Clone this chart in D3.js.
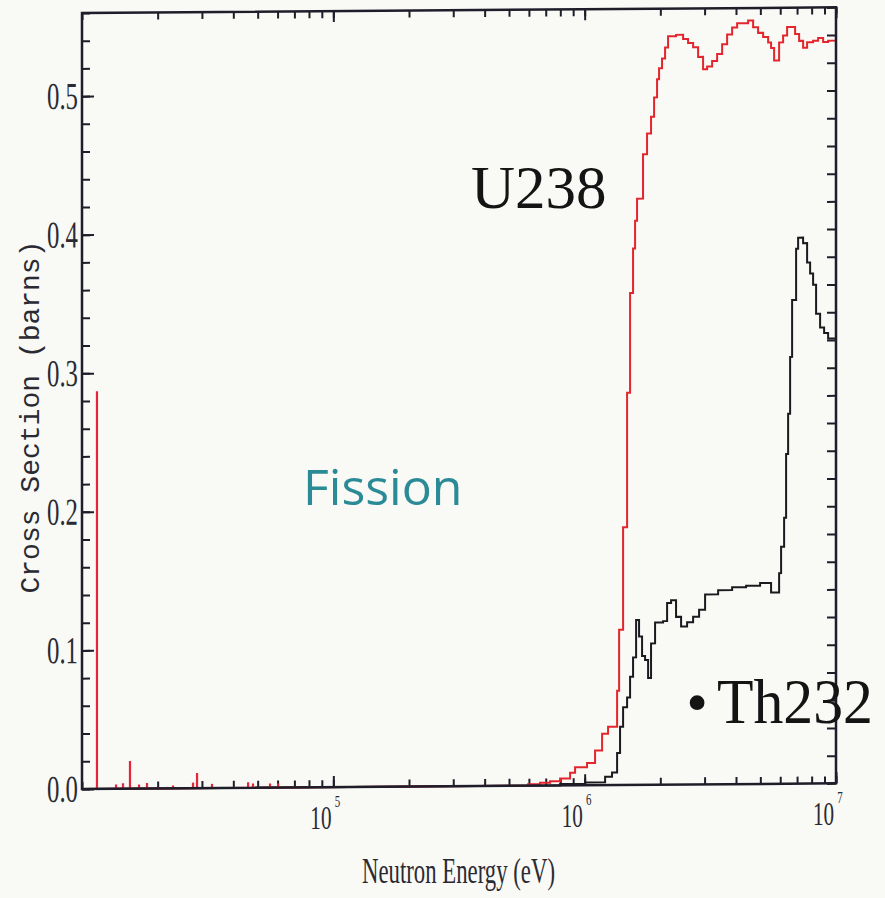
<!DOCTYPE html>
<meta charset="utf-8">
<script src="https://d3js.org/d3.v7.min.js"></script>
<style>
  body { margin: 0; background: #f9f9f6; }
</style>
<div id="chart"></div>
<script>

// U238 fission cross section, step data (energy eV, barns)
var u238Energy = [1e4, 5.955e5, 6.645e5, 7.285e5, 7.985e5, 8.75e5, 9.159e5, 1.022e6, 1.100e6, 1.173e6,
  1.239e6, 1.346e6, 1.371e6, 1.422e6, 1.475e6, 1.516e6, 1.558e6, 1.587e6, 1.616e6, 1.707e6,
  1.771e6, 1.837e6, 1.889e6, 1.941e6, 1.977e6, 2.032e6, 2.089e6, 2.147e6, 2.310e6, 2.464e6,
  2.579e6, 2.701e6, 2.827e6, 2.959e6, 3.070e6, 3.214e6, 3.365e6, 3.523e6, 3.688e6, 3.861e6,
  4.042e6, 4.470e6, 4.680e6, 4.898e6, 5.129e6, 5.370e6, 5.517e6, 5.673e6, 5.938e6, 6.159e6,
  6.389e6, 6.874e6, 7.133e6, 7.398e6, 7.674e6, 8.108e6, 8.489e6, 8.887e6, 9.303e6, 1e7];
var u238Sigma = [0, 0.001, 0.002, 0.003, 0.005, 0.009, 0.013, 0.016, 0.025, 0.037,
  0.042, 0.068, 0.112, 0.186, 0.283, 0.355, 0.387, 0.407, 0.423, 0.455,
  0.470, 0.482, 0.496, 0.509, 0.517, 0.524, 0.532, 0.540, 0.541, 0.538,
  0.535, 0.532, 0.525, 0.516, 0.518, 0.522, 0.527, 0.534, 0.541, 0.546,
  0.549, 0.551, 0.546, 0.542, 0.539, 0.535, 0.531, 0.522, 0.535, 0.540,
  0.546, 0.541, 0.536, 0.531, 0.535, 0.536, 0.538, 0.535, 0.536, 0.537];

// U238 low energy resonance spikes
var spikeEnergy = [1.147e4, 1.366e4, 1.456e4, 1.552e4, 1.686e4, 1.814e4, 2.302e4, 2.765e4, 2.869e4, 3.29e4, 4.58e4, 4.79e4, 5.6e4, 6.03e4];
var spikeSigma = [0.287, 0.003, 0.004, 0.020, 0.003, 0.004, 0.002, 0.004, 0.011, 0.003, 0.004, 0.003, 0.003, 0.003];

// Th232 fission cross section
var th232Energy = [1e4, 7.985e5, 1.004e6, 1.206e6, 1.285e6, 1.346e6, 1.383e6, 1.422e6, 1.475e6, 1.516e6,
  1.558e6, 1.602e6, 1.646e6, 1.692e6, 1.739e6, 1.788e6, 1.837e6, 1.906e6, 2.051e6, 2.128e6,
  2.207e6, 2.310e6, 2.419e6, 2.556e6, 2.701e6, 2.853e6, 3.014e6, 3.396e6, 3.861e6, 4.389e6,
  4.989e6, 5.517e6, 5.938e6, 6.047e6, 6.217e6, 6.331e6, 6.449e6, 6.568e6, 6.689e6, 6.939e6,
  7.068e6, 7.398e6, 7.674e6, 7.889e6, 8.108e6, 8.333e6, 8.644e6, 8.968e6, 9.303e6, 1e7];
var th232Sigma = [0, 0.001, 0.002, 0.006, 0.009, 0.023, 0.042, 0.056, 0.063, 0.078,
  0.092, 0.119, 0.107, 0.093, 0.090, 0.077, 0.102, 0.117, 0.118, 0.131,
  0.133, 0.121, 0.114, 0.117, 0.121, 0.126, 0.137, 0.140, 0.142, 0.143,
  0.145, 0.138, 0.152, 0.171, 0.192, 0.238, 0.267, 0.308, 0.349, 0.386,
  0.394, 0.390, 0.376, 0.368, 0.360, 0.339, 0.329, 0.325, 0.321, 0.321];

// tick labels
var yLabelValues = [0, 0.1, 0.2, 0.3, 0.4, 0.5];
var xLabelExps = [5, 6, 7];

var W = 885, H = 898;
var margin = {top: 13, right: 49, bottom: 109, left: 82},
    width = W - margin.left - margin.right,
    height = H - margin.top - margin.bottom;

var svg = d3.select("#chart").append("svg")
    .attr("width", W)
    .attr("height", H);

svg.append("rect").attr("width", W).attr("height", H).attr("fill", "#f9f9f6");

// the scanned chart leans a little: right side sits ~6px higher
var skew = 0.0075;
var page = svg.append("g").attr("transform", "translate(0," + (skew * margin.left) + ") skewY(-0.43)");

var g = page.append("g")
    .attr("transform", "translate(" + margin.left + "," + margin.top + ")");

var x = d3.scaleLog().domain([1e4, 1e7]).range([0, width]);
var y = d3.scaleLinear().domain([0, 0.56]).range([height, 0]);

var axisColor = "#1e1e2a";
var serif = "'Liberation Serif', 'Times New Roman', serif";

function styleAxis(sel) {
  sel.select(".domain").remove();
  sel.selectAll(".tick line").attr("stroke", axisColor).attr("stroke-width", 2);
}

var minorY = d3.range(0, 0.561, 0.02);

// left axis
g.append("g").call(d3.axisLeft(y).tickValues(minorY).tickSize(-8).tickFormat("")).call(styleAxis);
var yAx = g.append("g").call(d3.axisLeft(y).tickValues(yLabelValues).tickSize(-12).tickPadding(4)
    .tickFormat(d3.format(".1f"))).call(styleAxis);
yAx.selectAll("text")
    .attr("font-family", serif)
    .attr("font-size", 38)
    .attr("fill", "#2a2a33")
    .attr("textLength", 31)
    .attr("lengthAdjust", "spacingAndGlyphs");

// right axis
g.append("g").attr("transform", "translate(" + width + ",0)")
  .call(d3.axisRight(y).tickValues(minorY).tickSize(-9).tickFormat("")).call(styleAxis);

// bottom and top axes
var majorX = xLabelExps.map(function(e) { return Math.pow(10, e); });
g.append("g").attr("transform", "translate(0," + height + ")")
  .call(d3.axisBottom(x).ticks(30).tickSize(-7).tickFormat("")).call(styleAxis);
g.append("g").attr("transform", "translate(0," + height + ")")
  .call(d3.axisBottom(x).tickValues(majorX).tickSize(-11).tickFormat("")).call(styleAxis);
g.append("g")
  .call(d3.axisTop(x).ticks(30).tickSize(-7).tickFormat("")).call(styleAxis);
g.append("g")
  .call(d3.axisTop(x).tickValues(majorX).tickSize(-11).tickFormat("")).call(styleAxis);

// x tick labels 10^n, narrow serif like the original plotter font
var xl = svg.append("g").selectAll("text").data(xLabelExps).enter().append("text")
    .attr("transform", function(d) {
      var px = margin.left + x(Math.pow(10, d));
      var py = margin.top + height - skew * (px - margin.left) + 42;
      return "translate(" + (px - 23) + "," + py + ") scale(0.64,1)";
    })
    .attr("font-family", serif).attr("font-size", 33)
    .attr("fill", "#2a2a33");
xl.append("tspan").text("10");
xl.append("tspan")
    .attr("dx", 5).attr("dy", -22)
    .attr("font-size", 17)
    .text(function(d) { return d; });

// curves
var line = d3.line()
    .x(function(d) { return x(d[0]); })
    .y(function(d) { return y(d[1]); })
    .curve(d3.curveStepAfter);

g.append("path")
    .datum(d3.zip(th232Energy, th232Sigma))
    .attr("fill", "none")
    .attr("stroke", "#1b1b1f")
    .attr("stroke-width", 2)
    .attr("d", line);

g.append("g").selectAll("line")
    .data(d3.zip(spikeEnergy, spikeSigma))
    .enter().append("line")
    .attr("x1", function(d) { return x(d[0]); })
    .attr("x2", function(d) { return x(d[0]); })
    .attr("y1", y(0))
    .attr("y2", function(d) { return y(d[1]); })
    .attr("stroke", "#e3263a")
    .attr("stroke-width", 2.2);

g.append("path")
    .datum(d3.zip(u238Energy, u238Sigma))
    .attr("fill", "none")
    .attr("stroke", "#e3262d")
    .attr("stroke-width", 2)
    .attr("d", line);

// frame
g.append("rect")
    .attr("width", width).attr("height", height)
    .attr("fill", "none")
    .attr("stroke", axisColor)
    .attr("stroke-width", 2.5);

// axis titles
svg.append("text")
    .attr("x", 362).attr("y", 883)
    .attr("font-family", serif).attr("font-size", 36)
    .attr("fill", "#2a2a33")
    .attr("textLength", 193).attr("lengthAdjust", "spacingAndGlyphs")
    .text("Neutron Energy (eV)");

svg.append("text")
    .attr("transform", "translate(39,417) rotate(-90)")
    .attr("text-anchor", "middle")
    .attr("font-family", "'Liberation Mono', 'Courier New', monospace")
    .attr("font-size", 27)
    .attr("fill", "#2a2a33")
    .attr("textLength", 353).attr("lengthAdjust", "spacingAndGlyphs")
    .text("Cross Section (barns)");

// annotations
svg.append("text")
    .attr("x", 471).attr("y", 208)
    .attr("font-family", serif).attr("font-size", 61)
    .attr("fill", "#141414")
    .text("U238");

svg.append("text")
    .attr("x", 303).attr("y", 505)
    .attr("font-family", "'Open Sans', sans-serif").attr("font-size", 50)
    .attr("fill", "#2a8a96")
    .text("Fission");

svg.append("text")
    .attr("x", 697).attr("y", 723)
    .attr("text-anchor", "middle")
    .attr("font-family", serif).attr("font-size", 62)
    .attr("fill", "#141414")
    .text("\u2022");
svg.append("text")
    .attr("x", 717).attr("y", 723)
    .attr("font-family", serif).attr("font-size", 63)
    .attr("fill", "#141414")
    .attr("textLength", 156).attr("lengthAdjust", "spacingAndGlyphs")
    .text("Th232");

</script>
